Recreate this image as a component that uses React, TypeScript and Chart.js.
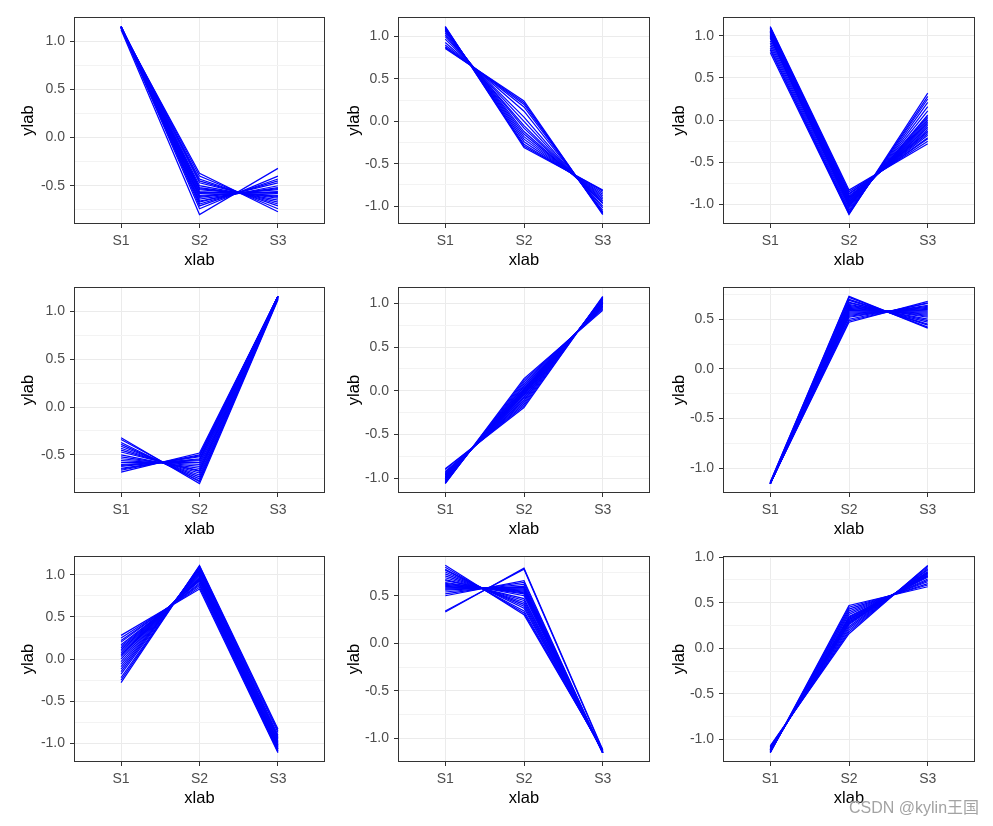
import React, { useEffect, useRef } from 'react';
import { Chart, registerables } from 'chart.js';

Chart.register(...registerables);

// ---------- data ----------
const categories = ['S1', 'S2', 'S3'];
const xAxisTitle = 'xlab';
const yAxisTitle = 'ylab';
const yMinorStep = 0.25;
const yMajorStep = 0.5;
const watermark = 'CSDN @kylin王国';

// each row: one line, values at S1, S2, S3
const panel1: number[][] = [
  [1.13, -0.37, -0.77], [1.14, -0.40, -0.74], [1.14, -0.43, -0.71], [1.15, -0.45, -0.69],
  [1.15, -0.47, -0.67], [1.15, -0.50, -0.65], [1.15, -0.52, -0.63], [1.155, -0.53, -0.62],
  [1.155, -0.54, -0.61], [1.155, -0.56, -0.60], [1.155, -0.57, -0.58], [1.155, -0.58, -0.57],
  [1.155, -0.60, -0.56], [1.155, -0.61, -0.54], [1.15, -0.62, -0.53], [1.15, -0.64, -0.52],
  [1.15, -0.66, -0.50], [1.15, -0.67, -0.47], [1.15, -0.69, -0.45], [1.14, -0.71, -0.43],
  [1.14, -0.74, -0.40], [1.12, -0.80, -0.32],
];
const panel2: number[][] = [
  [0.86, 0.24, -1.10], [0.87, 0.22, -1.09], [0.88, 0.20, -1.08], [0.90, 0.17, -1.07],
  [0.93, 0.12, -1.05], [0.97, 0.05, -1.02], [1.00, 0.00, -1.00], [1.02, -0.05, -0.97],
  [1.04, -0.08, -0.96], [1.06, -0.12, -0.94], [1.07, -0.15, -0.92], [1.08, -0.18, -0.90],
  [1.09, -0.21, -0.88], [1.10, -0.24, -0.86], [1.11, -0.27, -0.84], [1.11, -0.29, -0.82],
  [1.12, -0.31, -0.81],
];
const panel3: number[][] = [
  [1.11, -0.83, -0.28], [1.10, -0.85, -0.25], [1.09, -0.87, -0.22], [1.09, -0.88, -0.21],
  [1.08, -0.90, -0.18], [1.07, -0.91, -0.16], [1.06, -0.92, -0.14], [1.06, -0.93, -0.13],
  [1.05, -0.94, -0.11], [1.04, -0.95, -0.09], [1.04, -0.96, -0.08], [1.03, -0.97, -0.06],
  [1.02, -0.98, -0.04], [1.01, -0.99, -0.02], [1.00, -1.00, 0.00], [0.99, -1.01, 0.02],
  [0.98, -1.02, 0.04], [0.97, -1.03, 0.06], [0.94, -1.05, 0.11], [0.91, -1.07, 0.16],
  [0.88, -1.09, 0.21], [0.85, -1.10, 0.25], [0.83, -1.11, 0.28], [0.80, -1.12, 0.32],
];
const panel4: number[][] = [
  [-0.32, -0.80, 1.12], [-0.34, -0.78, 1.13], [-0.37, -0.77, 1.13], [-0.39, -0.75, 1.14],
  [-0.41, -0.73, 1.14], [-0.43, -0.71, 1.14], [-0.45, -0.69, 1.15], [-0.47, -0.67, 1.15],
  [-0.50, -0.66, 1.155], [-0.52, -0.64, 1.155], [-0.54, -0.62, 1.155], [-0.56, -0.60, 1.155],
  [-0.58, -0.58, 1.155], [-0.60, -0.56, 1.155], [-0.61, -0.55, 1.155], [-0.62, -0.54, 1.155],
  [-0.64, -0.52, 1.155], [-0.65, -0.51, 1.155], [-0.66, -0.50, 1.155], [-0.68, -0.48, 1.15],
];
const panel5: number[][] = [
  [-0.89, -0.19, 1.08], [-0.90, -0.17, 1.07], [-0.92, -0.15, 1.07], [-0.93, -0.13, 1.06],
  [-0.94, -0.11, 1.05], [-0.95, -0.10, 1.05], [-0.96, -0.08, 1.04], [-0.96, -0.07, 1.03],
  [-0.97, -0.05, 1.02], [-0.98, -0.04, 1.02], [-0.985, -0.03, 1.015], [-0.99, -0.02, 1.01],
  [-0.995, -0.01, 1.005], [-1.00, 0.00, 1.00], [-1.005, 0.01, 0.995], [-1.01, 0.02, 0.99],
  [-1.015, 0.03, 0.985], [-1.02, 0.05, 0.97], [-1.03, 0.06, 0.97], [-1.04, 0.08, 0.96],
  [-1.05, 0.10, 0.95], [-1.055, 0.12, 0.935], [-1.06, 0.14, 0.92],
];
const panel6: number[][] = [
  [-1.14, 0.73, 0.41], [-1.14, 0.72, 0.42], [-1.145, 0.70, 0.44], [-1.15, 0.69, 0.45],
  [-1.15, 0.67, 0.47], [-1.15, 0.665, 0.485], [-1.15, 0.65, 0.50], [-1.155, 0.64, 0.52],
  [-1.155, 0.63, 0.53], [-1.155, 0.62, 0.54], [-1.155, 0.61, 0.55], [-1.155, 0.60, 0.56],
  [-1.155, 0.59, 0.57], [-1.155, 0.58, 0.58], [-1.155, 0.57, 0.59], [-1.155, 0.56, 0.60],
  [-1.155, 0.55, 0.61], [-1.155, 0.54, 0.62], [-1.155, 0.53, 0.63], [-1.155, 0.52, 0.64],
  [-1.15, 0.50, 0.66], [-1.15, 0.485, 0.665], [-1.15, 0.47, 0.68],
];
const panel7: number[][] = [
  [0.28, 0.83, -1.11], [0.25, 0.85, -1.10], [0.22, 0.87, -1.09], [0.20, 0.885, -1.085],
  [0.17, 0.90, -1.07], [0.15, 0.92, -1.07], [0.13, 0.93, -1.06], [0.11, 0.94, -1.05],
  [0.09, 0.95, -1.04], [0.07, 0.96, -1.03], [0.05, 0.97, -1.02], [0.03, 0.985, -1.015],
  [0.00, 1.00, -1.00], [-0.03, 1.015, -0.985], [-0.06, 1.03, -0.97], [-0.09, 1.04, -0.95],
  [-0.12, 1.055, -0.935], [-0.15, 1.07, -0.92], [-0.18, 1.08, -0.90], [-0.22, 1.09, -0.87],
  [-0.25, 1.10, -0.85], [-0.28, 1.11, -0.83],
];
const panel8: number[][] = [
  [0.82, 0.30, -1.12], [0.80, 0.32, -1.12], [0.78, 0.34, -1.13], [0.77, 0.37, -1.13],
  [0.75, 0.39, -1.14], [0.73, 0.41, -1.14], [0.71, 0.43, -1.14], [0.69, 0.45, -1.14],
  [0.67, 0.47, -1.14], [0.66, 0.50, -1.15], [0.64, 0.52, -1.15], [0.63, 0.53, -1.15],
  [0.62, 0.54, -1.15], [0.61, 0.55, -1.15], [0.60, 0.56, -1.15], [0.59, 0.57, -1.15],
  [0.58, 0.58, -1.15], [0.57, 0.59, -1.15], [0.56, 0.60, -1.15], [0.54, 0.62, -1.15],
  [0.52, 0.64, -1.15], [0.50, 0.66, -1.15], [0.34, 0.78, -1.13], [0.33, 0.79, -1.12],
];
const panel9: number[][] = [
  [-1.07, 0.16, 0.91], [-1.08, 0.18, 0.90], [-1.085, 0.20, 0.885], [-1.09, 0.22, 0.87],
  [-1.10, 0.24, 0.86], [-1.10, 0.26, 0.84], [-1.11, 0.27, 0.84], [-1.11, 0.28, 0.83],
  [-1.11, 0.29, 0.82], [-1.12, 0.30, 0.82], [-1.12, 0.31, 0.81], [-1.12, 0.32, 0.80],
  [-1.12, 0.33, 0.79], [-1.13, 0.34, 0.79], [-1.13, 0.35, 0.78], [-1.13, 0.37, 0.76],
  [-1.135, 0.39, 0.745], [-1.14, 0.41, 0.73], [-1.14, 0.43, 0.71], [-1.145, 0.45, 0.695],
  [-1.145, 0.47, 0.675],
];
const panels = [panel1, panel2, panel3, panel4, panel5, panel6, panel7, panel8, panel9];

// ---------- layout (page pixels) ----------
const colLeft = [74, 398, 723];
const colRight = [324, 649, 974];
const colTitleOffset = [46, 44, 44];
const rowTop = [17, 287, 556];
const rowBottom = [223, 492, 761];

const FONT = "'Liberation Sans', Arial, Helvetica, sans-serif";
const TICK_FONT = 14;
const TITLE_FONT = 16.5;
const X_AXIS_H = 46;
const M_L = 60, M_T = 15, M_R = 6, M_B = 50;

const isMajor = (v: number) => Math.abs(v / yMajorStep - Math.round(v / yMajorStep)) < 1e-6;

const borderPlugin = {
  id: 'panelBorder',
  afterDatasetsDraw(chart: any) {
    const { ctx, chartArea } = chart;
    ctx.save();
    ctx.strokeStyle = '#333333';
    ctx.lineWidth = 1;
    ctx.strokeRect(chartArea.left + 0.5, chartArea.top + 0.5,
      chartArea.right - chartArea.left - 1, chartArea.bottom - chartArea.top - 1);
    ctx.restore();
  },
};

function Panel({ index }: { index: number }) {
  const ref = useRef<HTMLCanvasElement | null>(null);
  const col = index % 3;
  const row = Math.floor(index / 3);
  const L = colLeft[col], R = colRight[col], T = rowTop[row], B = rowBottom[row];
  const plotW = R - L + 1, plotH = B - T + 1;
  const cw = M_L + plotW + M_R;
  const chh = M_T + plotH + M_B;
  const yW = colTitleOffset[col] + (TITLE_FONT * 1.2) / 2;

  useEffect(() => {
    const lines = panels[index];
    let lo = Infinity, hi = -Infinity;
    lines.forEach((r) => r.forEach((v) => { lo = Math.min(lo, v); hi = Math.max(hi, v); }));
    const ex = (hi - lo) * 0.05;
    const yMin = lo - ex, yMax = hi + ex;

    const chart = new Chart(ref.current as HTMLCanvasElement, {
      type: 'line',
      data: {
        datasets: lines.map((r) => ({
          data: r.map((y, i) => ({ x: i + 1, y })),
          borderColor: '#0000FF',
          borderWidth: 1.2,
          pointRadius: 0,
          fill: false,
          tension: 0,
        })),
      },
      options: {
        animation: false,
        responsive: false,
        devicePixelRatio: 1,
        events: [],
        layout: { padding: { left: M_L - yW, top: M_T, right: M_R, bottom: M_B - X_AXIS_H } },
        plugins: { legend: { display: false }, tooltip: { enabled: false } },
        scales: {
          x: {
            type: 'linear',
            min: 0.4,
            max: 3.6,
            afterBuildTicks: (s: any) => { s.ticks = categories.map((_, i) => ({ value: i + 1 })); },
            afterFit: (s: any) => { s.height = X_AXIS_H; },
            border: { display: false },
            grid: { color: '#EBEBEB', lineWidth: 1, drawTicks: true, tickLength: 4, tickColor: '#333333' },
            ticks: {
              autoSkip: false,
              maxRotation: 0,
              padding: 5,
              color: '#4D4D4D',
              font: { family: FONT, size: TICK_FONT },
              callback: (v: any) => categories[Math.round(Number(v)) - 1] ?? '',
            },
            title: {
              display: true, text: xAxisTitle, color: '#000000', padding: 0,
              font: { family: FONT, size: TITLE_FONT, lineHeight: 1.2 },
            },
          },
          y: {
            type: 'linear',
            min: yMin,
            max: yMax,
            afterBuildTicks: (s: any) => {
              const t: any[] = [];
              for (let k = Math.ceil(s.min / yMinorStep - 1e-9); k * yMinorStep <= s.max + 1e-9; k++) {
                t.push({ value: k * yMinorStep });
              }
              s.ticks = t;
            },
            afterFit: (s: any) => { s.width = yW; },
            border: { display: false },
            grid: {
              color: (c: any) => (c.tick && isMajor(c.tick.value) ? '#EBEBEB' : '#F3F3F3'),
              lineWidth: 1,
              drawTicks: true,
              tickLength: 4,
              tickColor: (c: any) => (c.tick && isMajor(c.tick.value) ? '#333333' : 'rgba(0,0,0,0)'),
            },
            ticks: {
              autoSkip: false,
              padding: 5,
              color: '#4D4D4D',
              font: { family: FONT, size: TICK_FONT },
              callback: (v: any) => (isMajor(Number(v)) ? Number(v).toFixed(1) : ''),
            },
            title: {
              display: true, text: yAxisTitle, color: '#000000', padding: 0,
              font: { family: FONT, size: TITLE_FONT, lineHeight: 1.2 },
            },
          },
        },
      } as any,
      plugins: [borderPlugin],
    });
    return () => chart.destroy();
  }, [index]);

  return (
    <canvas
      ref={ref}
      width={cw}
      height={chh}
      style={{ position: 'absolute', left: L - M_L, top: T - M_T, width: cw, height: chh, display: 'block' }}
    />
  );
}

export default function App() {
  return (
    <div style={{ position: 'absolute', left: 0, top: 0, width: 993, height: 826, background: '#FFFFFF', overflow: 'hidden' }}>
      {panels.map((_, i) => <Panel key={i} index={i} />)}
      <div
        style={{
          position: 'absolute', left: 849, top: 798, fontSize: 16, lineHeight: '20px',
          color: '#A3A3A3', fontFamily: "'Liberation Sans', Arial, 'Noto Sans CJK SC', sans-serif",
          whiteSpace: 'nowrap', textShadow: '0 0 2px #FFFFFF', zIndex: 2,
        }}
      >
        {watermark}
      </div>
    </div>
  );
}
